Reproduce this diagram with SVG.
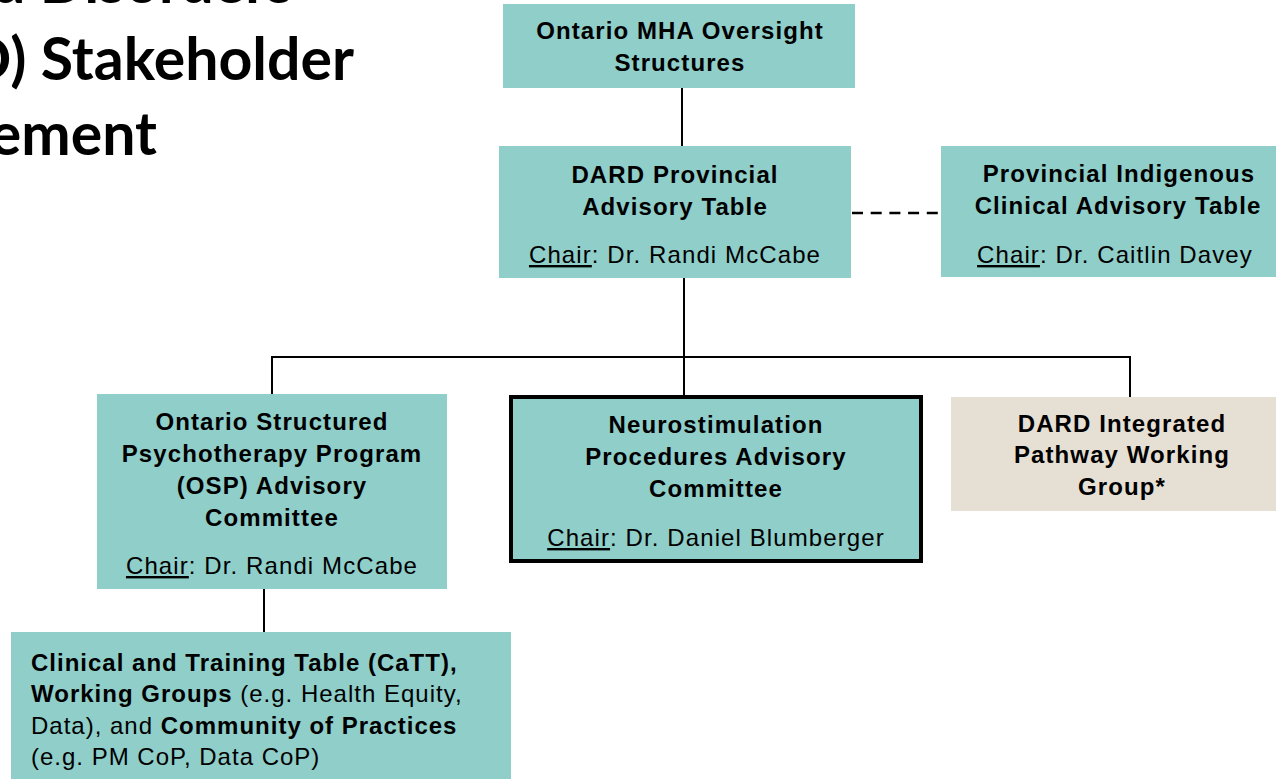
<svg xmlns="http://www.w3.org/2000/svg" width="1276" height="779" viewBox="0 0 1276 779">
  <style>
    .title { font-family: Lato, "Open Sans", "Liberation Sans", sans-serif; font-weight: 700; font-size: 59px; fill: #000; }
    .box { fill: #8FCEC9; }
    .box-alt { fill: #E6DFD3; }
    .box-strong { fill: #8FCEC9; stroke: #000; stroke-width: 4; }
    .head { font-family: "Liberation Sans", Arial, sans-serif; font-weight: 700; font-size: 24px; letter-spacing: 1.1px; fill: #000; text-anchor: middle; }
    .chair { font-family: "Liberation Sans", Arial, sans-serif; font-size: 24px; letter-spacing: 1.1px; fill: #000; text-anchor: middle; }
    .body { font-family: "Liberation Sans", Arial, sans-serif; font-size: 24px; letter-spacing: 1px; fill: #000; }
    .b { font-weight: 700; }
    .u { text-decoration: underline; }
    .link { fill: none; stroke: #000; stroke-width: 2; }
    .dash { fill: none; stroke: #000; stroke-width: 2.5; stroke-dasharray: 11 7.7; }
  </style>

  <!-- slide heading, partly off the left/top edge -->
  <g id="heading">
    <text class="title" x="293" y="3" text-anchor="end">d Disorders</text>
    <text class="title" x="354" y="80" text-anchor="end">D) Stakeholder</text>
    <text class="title" x="157" y="155" text-anchor="end">ement</text>
  </g>

  <!-- connectors -->
  <g id="connectors">
    <line class="link" x1="682" y1="88" x2="682" y2="146"/>
    <line class="dash" x1="852" y1="213" x2="941" y2="213"/>
    <line class="link" x1="684" y1="278" x2="684" y2="395"/>
    <polyline class="link" points="272,394 272,357 1130,357 1130,397"/>
    <line class="link" x1="264" y1="589" x2="264" y2="632"/>
  </g>

  <g id="node-mha-oversight">
    <rect class="box" x="503" y="4" width="352" height="84"/>
    <text class="head" x="680" y="39">Ontario MHA Oversight</text>
    <text class="head" x="680" y="71">Structures</text>
  </g>

  <g id="node-dard-provincial">
    <rect class="box" x="499" y="146" width="352" height="132"/>
    <text class="head" x="675" y="183">DARD Provincial</text>
    <text class="head" x="675" y="215">Advisory Table</text>
    <text class="chair" x="675" y="263"><tspan class="u">Chair</tspan>: Dr. Randi McCabe</text>
  </g>

  <g id="node-indigenous">
    <rect class="box" x="941" y="146" width="352" height="131"/>
    <text class="head" x="1119" y="182">Provincial Indigenous</text>
    <text class="head" x="1118" y="214">Clinical Advisory Table</text>
    <text class="chair" x="1115" y="263"><tspan class="u">Chair</tspan>: Dr. Caitlin Davey</text>
  </g>

  <g id="node-osp">
    <rect class="box" x="97" y="394" width="350" height="195"/>
    <text class="head" x="272" y="430">Ontario Structured</text>
    <text class="head" x="272" y="462">Psychotherapy Program</text>
    <text class="head" x="272" y="494">(OSP) Advisory</text>
    <text class="head" x="272" y="526">Committee</text>
    <text class="chair" x="272" y="574"><tspan class="u">Chair</tspan>: Dr. Randi McCabe</text>
  </g>

  <g id="node-neurostimulation">
    <rect class="box-strong" x="511" y="397" width="410" height="164"/>
    <text class="head" x="716" y="433">Neurostimulation</text>
    <text class="head" x="716" y="465">Procedures Advisory</text>
    <text class="head" x="716" y="497">Committee</text>
    <text class="chair" x="716" y="546"><tspan class="u">Chair</tspan>: Dr. Daniel Blumberger</text>
  </g>

  <g id="node-integrated-pathway">
    <rect class="box-alt" x="951" y="397" width="342" height="114"/>
    <text class="head" x="1122" y="432">DARD Integrated</text>
    <text class="head" x="1122" y="463">Pathway Working</text>
    <text class="head" x="1122" y="495">Group*</text>
  </g>

  <g id="node-catt">
    <rect class="box" x="11" y="632" width="500" height="160"/>
    <text class="body" x="31" y="671"><tspan class="b">Clinical and Training Table (CaTT),</tspan></text>
    <text class="body" x="31" y="702"><tspan class="b">Working Groups</tspan> (e.g. Health Equity,</text>
    <text class="body" x="31" y="734">Data), and <tspan class="b">Community of Practices</tspan></text>
    <text class="body" x="31" y="765">(e.g. PM CoP, Data CoP)</text>
  </g>
</svg>
